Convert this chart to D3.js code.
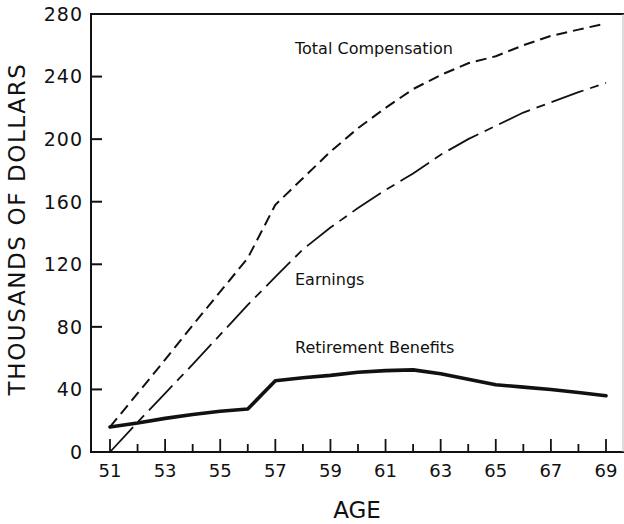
<!DOCTYPE html>
<html>
<head>
<meta charset="utf-8">
<script src="https://cdn.jsdelivr.net/npm/d3@7"></script>
<style>
  html, body { margin: 0; padding: 0; background: #fff; }
  svg { display: block; }
  text { font-family: "DejaVu Sans", sans-serif; fill: #111; }
</style>
</head>
<body>
<svg id="chart" width="624" height="524"></svg>
<script>
// ---- data ----
const ages = [51,52,53,54,55,56,57,58,59,60,61,62,63,64,65,66,67,68,69];
const totalCompensation = [16,37.5,59,81,102.5,124,158,175,192,207,220,232,241,248.5,253,260,266,270,274];
const earnings = [0,19,37.5,56,75,94,112,129.5,143.5,156,167.5,178,190,200,208.5,217,223.5,230,236];
const retirementBenefits = [16,18.5,21.5,24,26,27.5,45.5,47.5,49,51,52,52.5,50,46.5,43,41.5,40,38,36];
const yTicks = [0,40,80,120,160,200,240,280];
const xTickLabels = [51,53,55,57,59,61,63,65,67,69];
const seriesLabels = ["Total Compensation", "Earnings", "Retirement Benefits"];

// ---- layout ----
const svg = d3.select("#chart");
const axisLeft = 91, axisRight = 623, axisTop = 14, axisBottom = 452;
const x = d3.scaleLinear().domain([51, 69]).range([110, 606]);
const y = d3.scaleLinear().domain([0, 280]).range([axisBottom, axisTop]);

// frame
const frame = svg.append("g").attr("stroke", "#111").attr("fill", "none");
frame.append("line").attr("x1", axisLeft).attr("x2", axisLeft).attr("y1", axisTop - 1).attr("y2", axisBottom + 1).attr("stroke-width", 2);
frame.append("line").attr("x1", axisLeft - 1).attr("x2", 624).attr("y1", axisBottom).attr("y2", axisBottom).attr("stroke-width", 2);
frame.append("line").attr("x1", axisLeft - 1).attr("x2", 624).attr("y1", axisTop).attr("y2", axisTop).attr("stroke-width", 2);
frame.append("line").attr("x1", axisRight).attr("x2", axisRight).attr("y1", axisTop).attr("y2", axisBottom).attr("stroke-width", 1).attr("stroke", "#bbb");

// y axis ticks (inward) and labels
const yg = svg.append("g");
yg.selectAll("line").data(yTicks.filter(d => d > 0 && d < 280)).join("line")
  .attr("x1", axisLeft).attr("x2", axisLeft + 11)
  .attr("y1", d => y(d)).attr("y2", d => y(d))
  .attr("stroke", "#111").attr("stroke-width", 2);
yg.selectAll("text").data(yTicks).join("text")
  .attr("x", 83).attr("y", d => y(d))
  .attr("dy", "0.36em")
  .attr("text-anchor", "end")
  .attr("font-size", 19)
  .attr("letter-spacing", 1)
  .text(d => d);

// x axis ticks (inward) and labels
const xg = svg.append("g");
xg.selectAll("line").data(ages).join("line")
  .attr("x1", d => x(d)).attr("x2", d => x(d))
  .attr("y1", axisBottom).attr("y2", d => axisBottom - (d % 2 === 1 ? 13 : 8))
  .attr("stroke", "#111").attr("stroke-width", 1.8);
xg.selectAll("text").data(xTickLabels).join("text")
  .attr("x", d => x(d)).attr("y", 477)
  .attr("text-anchor", "middle")
  .attr("font-size", 18)
  .text(d => d);

// axis titles
svg.append("text")
  .attr("x", 357).attr("y", 518)
  .attr("text-anchor", "middle")
  .attr("font-size", 23)
  .text("AGE");
svg.append("text")
  .attr("transform", "translate(25,229) rotate(-90)")
  .attr("text-anchor", "middle")
  .attr("font-size", 23)
  .attr("letter-spacing", 1.6)
  .text("THOUSANDS OF DOLLARS");

// lines
const line = d3.line().x(d => x(d[0])).y(d => y(d[1])).curve(d3.curveLinear);
const zip = vals => ages.map((a, i) => [a, vals[i]]);

svg.append("path").datum(zip(totalCompensation))
  .attr("d", line).attr("fill", "none").attr("stroke", "#111")
  .attr("stroke-width", 2).attr("stroke-dasharray", "11,6");
svg.append("path").datum(zip(earnings))
  .attr("d", line).attr("fill", "none").attr("stroke", "#111")
  .attr("stroke-width", 1.8).attr("stroke-dasharray", "34,7,9,7");
svg.append("path").datum(zip(retirementBenefits))
  .attr("d", line).attr("fill", "none").attr("stroke", "#111")
  .attr("stroke-width", 3.6).attr("stroke-linejoin", "round").attr("stroke-linecap", "round");

// series labels
const labelPos = [[295, 54], [295, 285], [295, 353]];
svg.selectAll("text.series").data(seriesLabels).join("text")
  .attr("class", "series")
  .attr("x", (d, i) => labelPos[i][0]).attr("y", (d, i) => labelPos[i][1])
  .attr("font-size", 16)
  .text(d => d);
</script>
</body>
</html>
